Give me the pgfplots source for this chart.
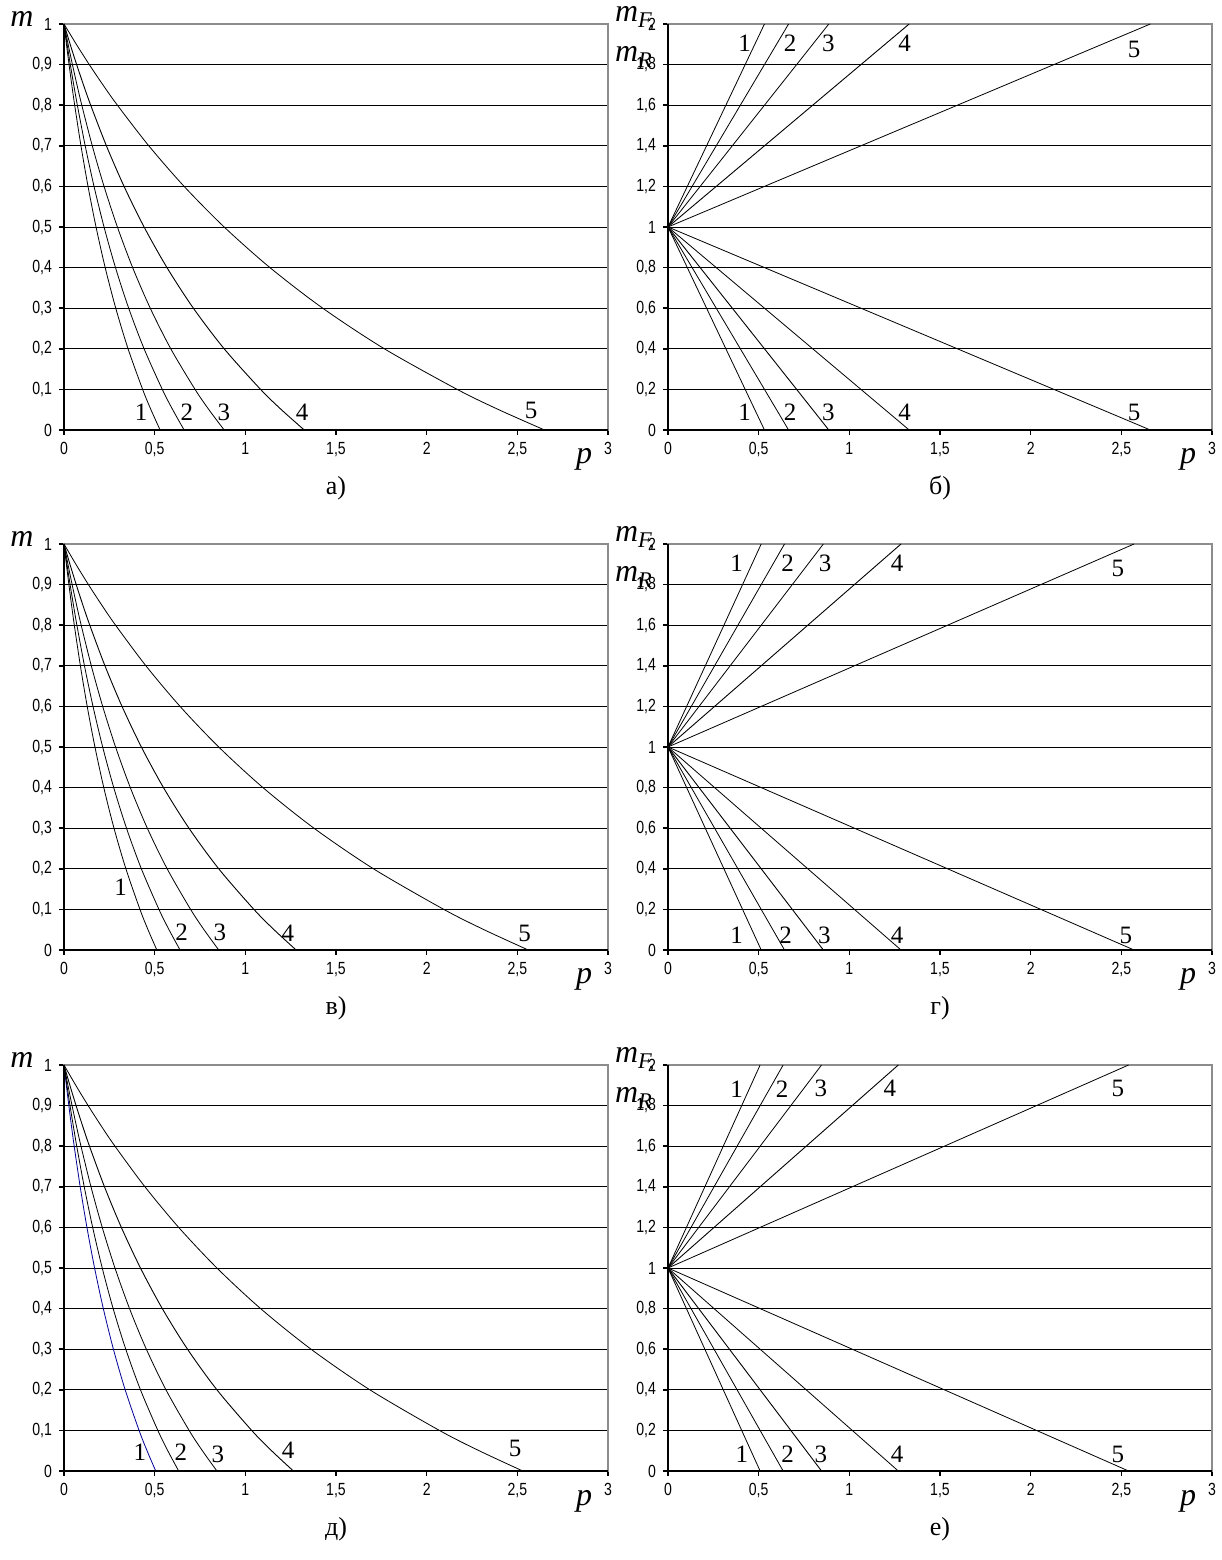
\documentclass[border=0pt]{standalone}
\usepackage{fontspec}
\setmainfont{Liberation Serif}
\newfontfamily\tickfont[FakeStretch=0.8]{Liberation Sans}
\usepackage{pgfplots}
\usepackage{pgfplotstable}
\pgfplotsset{compat=1.18}
\definecolor{curveblue}{RGB}{0,0,150}

% m(p) curves of the left panels: columns p1..p5 belong to curves 1..5
\pgfplotstableread{
m    p1      p2      p3      p4      p5
1    0       0       0       0       0
0.95 0.01359 0.01699 0.02265 0.03397 0.06795
0.9  0.02789 0.03487 0.04649 0.06974 0.13947
0.85 0.04297 0.05372 0.07162 0.10743 0.21486
0.8  0.05889 0.07361 0.09815 0.14722 0.29444
0.7  0.09353 0.11691 0.15588 0.23382 0.46765
0.6  0.1325  0.16563 0.22083 0.33125 0.6625
0.5  0.17667 0.22083 0.29444 0.44167 0.88333
0.4  0.22714 0.28393 0.37857 0.56786 1.13571
0.3  0.28538 0.35673 0.47564 0.71346 1.42692
0.2  0.35333 0.44167 0.58889 0.88333 1.76667
0.1  0.43364 0.54205 0.72273 1.08409 2.16818
0.05 0.47952 0.5994  0.79921 1.19881 2.39762
0    0.53    0.6625  0.88333 1.325   2.65
}\tabA
\pgfplotstableread{
m    p1      p2      p3      p4      p5
1    0       0       0       0       0
0.95 0.01313 0.01641 0.02188 0.03282 0.06564
0.9  0.02695 0.03368 0.04491 0.06737 0.13474
0.85 0.04151 0.05189 0.06919 0.10378 0.20757
0.8  0.05689 0.07111 0.09481 0.14222 0.28444
0.7  0.09035 0.11294 0.15059 0.22588 0.45177
0.6  0.128   0.16    0.21333 0.32    0.64
0.5  0.17067 0.21333 0.28444 0.42667 0.85333
0.4  0.21943 0.27429 0.36571 0.54857 1.09714
0.3  0.27569 0.34462 0.45949 0.68923 1.37846
0.2  0.34133 0.42667 0.56889 0.85333 1.70667
0.1  0.41891 0.52364 0.69818 1.04727 2.09455
0.05 0.46324 0.57905 0.77206 1.1581  2.31619
0    0.512   0.64    0.85333 1.28    2.56
}\tabB
\pgfplotstableread{
m    p1      p2      p3      p4      p5
1    0       0       0       0       0
0.95 0.01297 0.01622 0.02162 0.03244 0.06487
0.9  0.02663 0.03329 0.04439 0.06658 0.13316
0.85 0.04103 0.05128 0.06838 0.10257 0.20513
0.8  0.05622 0.07028 0.0937  0.14056 0.28111
0.7  0.08929 0.11162 0.14882 0.22324 0.44647
0.6  0.1265  0.15813 0.21083 0.31625 0.6325
0.5  0.16867 0.21083 0.28111 0.42167 0.84333
0.4  0.21686 0.27107 0.36143 0.54214 1.08429
0.3  0.27246 0.34058 0.4541  0.68115 1.36231
0.2  0.33733 0.42167 0.56222 0.84333 1.68667
0.1  0.414   0.5175  0.69    1.035   2.07
0.05 0.45781 0.57226 0.76302 1.14452 2.28905
0    0.506   0.6325  0.84333 1.265   2.53
}\tabC

\newcommand\numfont{\fontsize{12.5}{13}\selectfont}
\newcommand\capfont{\fontsize{13}{13}\selectfont}
\newcommand\labfont{\fontsize{16}{16}\selectfont\itshape}

\pgfplotsset{
  panel/.style={
    scale only axis, width=272pt, height=203pt, anchor=south west,
    xmin=0, xmax=3, ymin=0,
    xtick={0,0.5,1,1.5,2,2.5,3},
    tick align=outside, xtick pos=bottom, ytick pos=left,
    major tick length=2.5pt,
    tick style={black, line width=0.8pt},
    ymajorgrids, major grid style={black, line width=0.45pt},
    axis line style={black!45, line width=0.6pt},
    ticklabel style={font=\tickfont\fontsize{8.8}{9}\selectfont},
    /pgf/number format/use comma,
    /pgf/number format/fixed,
    /pgf/number format/precision=1,
    /pgf/number format/assume math mode=true,
    clip=false,
    cycle list={{black, solid, no marks, line width=0.45pt}},
  },
  leftpanel/.style={panel, ymax=1,
    ytick={0,0.1,0.2,0.3,0.4,0.5,0.6,0.7,0.8,0.9,1}},
  rightpanel/.style={panel, ymax=2,
    ytick={0,0.2,0.4,0.6,0.8,1,1.2,1.4,1.6,1.8,2}},
}
\newcommand\frameaxes{%
  \draw[black, line width=1pt] (rel axis cs:0,1) -- (rel axis cs:0,0) -- (rel axis cs:1,0);
  \node[font=\labfont, anchor=base, xshift=-12pt, yshift=-17pt] at (rel axis cs:1,0) {p};}
\newcommand\mlabel{%
  \node[font=\labfont, anchor=base, xshift=-21pt, yshift=-1.5pt] at (rel axis cs:0,1) {m};}
\newcommand\mfrlabel{%
  \node[font=\labfont, anchor=base west, xshift=-30pt, yshift=1pt] at (rel axis cs:0,1) {m\textsubscript{F,}};
  \node[font=\labfont, anchor=base west, xshift=-30pt, yshift=-19pt] at (rel axis cs:0,1) {m\textsubscript{R}};}
\newcommand\panelcap[1]{%
  \node[font=\capfont] at (rel axis cs:0.5,0) [yshift=-29pt] {#1};}

\begin{document}
\begin{tikzpicture}
\useasboundingbox (0,0) rectangle (611pt,780pt);

% ---------- а)
\begin{axis}[leftpanel, at={(32pt,565pt)}]
  \foreach \c in {1,...,5} {\addplot+[smooth] table[x=p\c, y=m] {\tabA};}
  \frameaxes \mlabel \panelcap{а)}
  \node[font=\numfont] at (axis cs:0.425,0.044) {1};
  \node[font=\numfont] at (axis cs:0.678,0.044) {2};
  \node[font=\numfont] at (axis cs:0.882,0.044) {3};
  \node[font=\numfont] at (axis cs:1.313,0.044) {4};
  \node[font=\numfont] at (axis cs:2.576,0.049) {5};
\end{axis}

% ---------- б)
\begin{axis}[rightpanel, at={(334pt,565pt)}]
  \addplot coordinates {(0,1) (0.532,2)};
  \addplot coordinates {(0,1) (0.665,2)};
  \addplot coordinates {(0,1) (0.8867,2)};
  \addplot coordinates {(0,1) (1.33,2)};
  \addplot coordinates {(0,1) (2.66,2)};
  \addplot coordinates {(0,1) (0.532,0)};
  \addplot coordinates {(0,1) (0.665,0)};
  \addplot coordinates {(0,1) (0.8867,0)};
  \addplot coordinates {(0,1) (1.33,0)};
  \addplot coordinates {(0,1) (2.66,0)};
  \frameaxes \mfrlabel \panelcap{б)}
  \node[font=\numfont] at (axis cs:0.422,1.905) {1};
  \node[font=\numfont] at (axis cs:0.673,1.905) {2};
  \node[font=\numfont] at (axis cs:0.885,1.905) {3};
  \node[font=\numfont] at (axis cs:1.305,1.905) {4};
  \node[font=\numfont] at (axis cs:2.57,1.875) {5};
  \node[font=\numfont] at (axis cs:0.422,0.088) {1};
  \node[font=\numfont] at (axis cs:0.673,0.088) {2};
  \node[font=\numfont] at (axis cs:0.885,0.088) {3};
  \node[font=\numfont] at (axis cs:1.305,0.088) {4};
  \node[font=\numfont] at (axis cs:2.57,0.088) {5};
\end{axis}

% ---------- в)
\begin{axis}[leftpanel, at={(32pt,305pt)}]
  \foreach \c in {1,...,5} {\addplot+[smooth] table[x=p\c, y=m] {\tabB};}
  \frameaxes \mlabel \panelcap{в)}
  \node[font=\numfont] at (axis cs:0.312,0.155) {1};
  \node[font=\numfont] at (axis cs:0.648,0.044) {2};
  \node[font=\numfont] at (axis cs:0.86,0.044) {3};
  \node[font=\numfont] at (axis cs:1.235,0.04) {4};
  \node[font=\numfont] at (axis cs:2.54,0.04) {5};
\end{axis}

% ---------- г)
\begin{axis}[rightpanel, at={(334pt,305pt)}]
  \addplot coordinates {(0,1) (0.514,2)};
  \addplot coordinates {(0,1) (0.6425,2)};
  \addplot coordinates {(0,1) (0.8567,2)};
  \addplot coordinates {(0,1) (1.285,2)};
  \addplot coordinates {(0,1) (2.57,2)};
  \addplot coordinates {(0,1) (0.514,0)};
  \addplot coordinates {(0,1) (0.6425,0)};
  \addplot coordinates {(0,1) (0.8567,0)};
  \addplot coordinates {(0,1) (1.285,0)};
  \addplot coordinates {(0,1) (2.57,0)};
  \frameaxes \mfrlabel \panelcap{г)}
  \node[font=\numfont] at (axis cs:0.378,1.904) {1};
  \node[font=\numfont] at (axis cs:0.659,1.904) {2};
  \node[font=\numfont] at (axis cs:0.867,1.904) {3};
  \node[font=\numfont] at (axis cs:1.263,1.904) {4};
  \node[font=\numfont] at (axis cs:2.481,1.88) {5};
  \node[font=\numfont] at (axis cs:0.378,0.071) {1};
  \node[font=\numfont] at (axis cs:0.649,0.071) {2};
  \node[font=\numfont] at (axis cs:0.863,0.071) {3};
  \node[font=\numfont] at (axis cs:1.263,0.071) {4};
  \node[font=\numfont] at (axis cs:2.525,0.071) {5};
\end{axis}

% ---------- д)
\begin{axis}[leftpanel, at={(32pt,44.5pt)}]
  \addplot+[smooth, curveblue] table[x=p1, y=m] {\tabC};
  \foreach \c in {2,...,5} {\addplot+[smooth] table[x=p\c, y=m] {\tabC};}
  \frameaxes \mlabel \panelcap{д)}
  \node[font=\numfont] at (axis cs:0.419,0.047) {1};
  \node[font=\numfont] at (axis cs:0.645,0.047) {2};
  \node[font=\numfont] at (axis cs:0.849,0.04) {3};
  \node[font=\numfont] at (axis cs:1.236,0.05) {4};
  \node[font=\numfont] at (axis cs:2.488,0.055) {5};
\end{axis}

% ---------- е)
\begin{axis}[rightpanel, at={(334pt,44.5pt)}]
  \addplot coordinates {(0,1) (0.508,2)};
  \addplot coordinates {(0,1) (0.635,2)};
  \addplot coordinates {(0,1) (0.8467,2)};
  \addplot coordinates {(0,1) (1.27,2)};
  \addplot coordinates {(0,1) (2.54,2)};
  \addplot coordinates {(0,1) (0.508,0)};
  \addplot coordinates {(0,1) (0.635,0)};
  \addplot coordinates {(0,1) (0.8467,0)};
  \addplot coordinates {(0,1) (1.27,0)};
  \addplot coordinates {(0,1) (2.54,0)};
  \frameaxes \mfrlabel \panelcap{е)}
  \node[font=\numfont] at (axis cs:0.378,1.883) {1};
  \node[font=\numfont] at (axis cs:0.63,1.883) {2};
  \node[font=\numfont] at (axis cs:0.843,1.883) {3};
  \node[font=\numfont] at (axis cs:1.224,1.883) {4};
  \node[font=\numfont] at (axis cs:2.481,1.883) {5};
  \node[font=\numfont] at (axis cs:0.408,0.082) {1};
  \node[font=\numfont] at (axis cs:0.659,0.082) {2};
  \node[font=\numfont] at (axis cs:0.843,0.082) {3};
  \node[font=\numfont] at (axis cs:1.263,0.082) {4};
  \node[font=\numfont] at (axis cs:2.481,0.082) {5};
\end{axis}
\end{tikzpicture}
\end{document}
